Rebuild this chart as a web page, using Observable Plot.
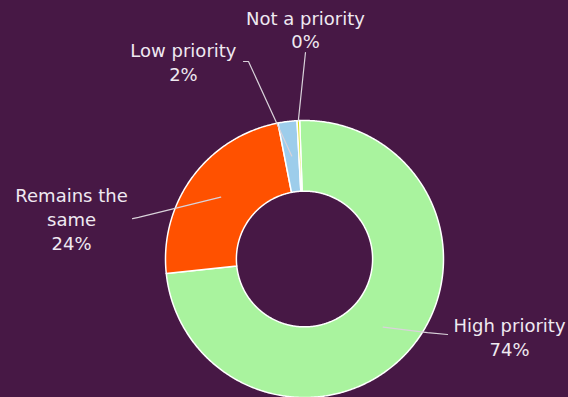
<!DOCTYPE html>
<html>
<head>
<meta charset="utf-8">
<script src="https://cdn.jsdelivr.net/npm/d3@7"></script>
<script src="https://cdn.jsdelivr.net/npm/@observablehq/plot@0.6"></script>
<style>
  html, body { margin: 0; padding: 0; background: #471845; }
  #chart svg { display: block; }
</style>
</head>
<body>
<div id="chart"></div>
<script>
// ---- data ----
const categories = ["High priority", "Remains the same", "Low priority", "Not a priority"];
const values = [73.9, 23.6, 2.2, 0.3];
const labelLines = [["High priority"], ["Remains the", "same"], ["Low priority"], ["Not a priority"]];

// ---- style / layout ----
const colors = ["#a9f39e", "#ff5100", "#9dcdeb", "#d6df22"];
const bg = "#471845";
const startDeg = -2;      // rotation of first slice
const innerR = 0.49;      // donut hole (fraction of outer radius)
// label block centres (data units, outer radius = 1)
const labelPos = [[1.475, -0.556], [-1.676, 0.292], [-0.871, 1.426], [0.007, 1.662]];
// leader line elbows (data units), then end at slice
const leaderElbows = [
  [[1.029, -0.545], [0.885, -0.531]],
  [[-1.237, 0.292], [-1.194, 0.300]],
  [[-0.439, 1.426], [-0.403, 1.426]],
  [[0.007, 1.491]]
];
const leaderEndR = [0.75, 0.75, 0.75, 1.0];

// ---- geometry from data ----
const total = d3.sum(values);
const toRad = a => a * Math.PI / 180;
let acc = 0;
const slices = values.map((v, i) => {
  const a0 = startDeg + acc / total * 360;
  acc += v;
  const a1 = startDeg + acc / total * 360;
  return {key: categories[i], a0, a1, mid: (a0 + a1) / 2, v};
});
const pt = (deg, r) => [r * Math.sin(toRad(deg)), r * Math.cos(toRad(deg))];

const ringPts = [];
for (const s of slices) {
  const n = Math.max(2, Math.ceil((s.a1 - s.a0) / 0.5));
  for (let k = 0; k <= n; k++) {
    const [x, y] = pt(s.a0 + (s.a1 - s.a0) * k / n, 1);
    ringPts.push({key: s.key, x, y});
  }
  for (let k = n; k >= 0; k--) {
    const [x, y] = pt(s.a0 + (s.a1 - s.a0) * k / n, innerR);
    ringPts.push({key: s.key, x, y});
  }
}

const leaderPts = [];
slices.forEach((s, i) => {
  for (const [x, y] of leaderElbows[i]) leaderPts.push({key: s.key, x, y});
  const [x, y] = pt(s.mid, leaderEndR[i]);
  leaderPts.push({key: s.key, x, y});
});

const labels = slices.map((s, i) => ({
  x: labelPos[i][0], y: labelPos[i][1],
  text: [...labelLines[i], Math.round(s.v) + "%"].join("\n")
}));

const chart = Plot.plot({
  width: 568,
  height: 397,
  marginLeft: 165,
  marginRight: 125,
  marginTop: 120,
  marginBottom: 0,
  style: {background: bg, overflow: "visible"},
  x: {domain: [-1, 1], axis: null},
  y: {domain: [-1, 1], axis: null},
  color: {domain: categories, range: colors},
  marks: [
    Plot.line(ringPts, {x: "x", y: "y", z: "key", fill: "key", stroke: "white", strokeWidth: 1.5, curve: "linear-closed"}),
    Plot.line(leaderPts, {x: "x", y: "y", z: "key", stroke: "#d9d2da", strokeWidth: 1.2}),
    Plot.text(labels, {x: "x", y: "y", text: "text", fill: "#efe9f1", fontSize: 18,
      fontFamily: "DejaVu Sans", lineHeight: 1.33, textAnchor: "middle", lineAnchor: "middle"})
  ]
});
document.getElementById("chart").appendChild(chart);
</script>
</body>
</html>
